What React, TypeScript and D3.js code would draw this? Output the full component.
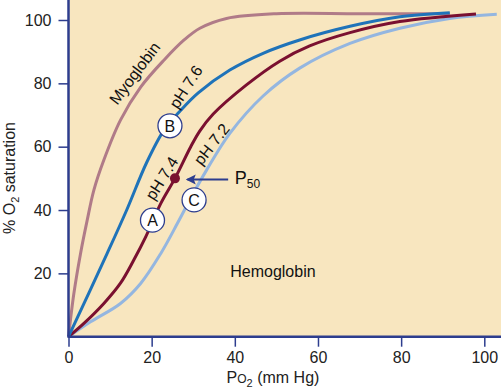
import React, { useEffect, useRef } from "react";
import * as d3 from "d3";

// PO2 (mm Hg) and % saturation
const myoX = [0, 1.3, 2.9, 4.5, 6.1, 8.5, 12.5, 17.4, 23, 27.8, 31.6, 38, 50, 70, 91.7];
const myoY = [0, 13.7, 26.3, 36.8, 46.3, 55.8, 68.4, 78.9, 87.4, 93.7, 97.4, 100.5, 102, 102, 102];

const ph76X = [0, 9.3, 14, 18.8, 23, 27, 31.2, 38.8, 46.8, 55.6, 67.7, 79.7, 91.7];
const ph76Y = [0, 26.3, 40, 55, 65.3, 71.5, 77, 84.2, 89.5, 93.7, 98, 101, 102.3];

const ph74X = [0, 3.7, 8.5, 12.5, 15.7, 18.6, 22.2, 25.6, 29.4, 31.6, 34.8, 42.8, 50.8, 58, 67.7, 79.7, 98];
const ph74Y = [0, 4.2, 10.5, 16.9, 24.2, 31.6, 42.1, 50, 60, 65, 70.3, 79.5, 87, 91.8, 96, 99.5, 101.9];

const ph72X = [0, 5.3, 12.5, 17.4, 22.2, 26.2, 29.5, 33.2, 38.8, 46.8, 55.6, 67.7, 79.7, 91.7, 103];
const ph72Y = [0, 4.7, 10.5, 16.9, 26.3, 35.8, 44, 52.6, 64.2, 76, 84.8, 92.6, 97.4, 100.5, 101.8];

const xTicks = [0, 20, 40, 60, 80, 100];
const yTicks = [20, 40, 60, 80, 100];

const p50 = [25.6, 50];

const W = 501;
const H = 391;

function App() {
  const svgRef = useRef<SVGSVGElement>(null);

  useEffect(() => {
    const svg = d3.select(svgRef.current);
    svg.selectAll("*").remove();

    const x = d3.scaleLinear().domain([0, 100]).range([68.5, 484.3]);
    const y = d3.scaleLinear().domain([0, 100]).range([336.7, 20]);
    const navy = "#2d3d8e";
    const font = "'Liberation Sans', Arial, sans-serif";

    // beige plot background
    svg.append("rect")
      .attr("x", x(0))
      .attr("y", 0)
      .attr("width", W - x(0))
      .attr("height", y(0))
      .attr("fill", "#f8e6bf");

    const line = d3.line<[number, number]>()
      .x((d) => x(d[0]))
      .y((d) => y(d[1]))
      .curve(d3.curveCatmullRom.alpha(0.5));

    const curves: [number[], number[], string][] = [
      [myoX, myoY, "#b07b88"],
      [ph72X, ph72Y, "#94b6e0"],
      [ph74X, ph74Y, "#7a1030"],
      [ph76X, ph76Y, "#1f73b9"],
    ];
    curves.forEach(([xs, ys, c]) => {
      svg.append("path")
        .datum(xs.map((v, i) => [v, ys[i]] as [number, number]))
        .attr("fill", "none")
        .attr("stroke", c)
        .attr("stroke-width", 3)
        .attr("d", line);
    });

    // axes
    const gx = svg.append("g").attr("transform", `translate(0,${y(0)})`)
      .call(d3.axisBottom(x).tickValues(xTicks).tickSize(10).tickPadding(5));
    const gy = svg.append("g").attr("transform", `translate(${x(0)},0)`)
      .call(d3.axisLeft(y).tickValues(yTicks).tickSize(10).tickPadding(7));
    [gx, gy].forEach((g) => {
      g.select(".domain").remove();
      g.selectAll("line").attr("stroke", navy).attr("stroke-width", 1.5);
      g.selectAll("text")
        .attr("fill", "#222")
        .style("font-family", font)
        .style("font-size", "16px");
    });
    svg.append("line")
      .attr("x1", x(0)).attr("x2", x(0)).attr("y1", 0).attr("y2", y(0) + 1)
      .attr("stroke", navy).attr("stroke-width", 2.5);
    svg.append("line")
      .attr("x1", x(0)).attr("x2", W).attr("y1", y(0)).attr("y2", y(0))
      .attr("stroke", navy).attr("stroke-width", 2.5);

    // axis titles
    const xt = svg.append("text")
      .attr("x", 273).attr("y", 383)
      .attr("text-anchor", "middle")
      .style("font-family", font).style("font-size", "16px").attr("fill", "#222");
    xt.append("tspan").text("P");
    xt.append("tspan").style("font-size", "12px").text("O");
    xt.append("tspan").style("font-size", "11px").attr("dy", 4).text("2");
    xt.append("tspan").attr("dy", -4).text(" (mm Hg)");

    const yt = svg.append("text")
      .attr("transform", "translate(15,178) rotate(-90)")
      .attr("text-anchor", "middle")
      .style("font-family", font).style("font-size", "16px").attr("fill", "#222");
    yt.append("tspan").text("% O");
    yt.append("tspan").style("font-size", "11px").attr("dy", 4).text("2");
    yt.append("tspan").attr("dy", -4).text(" saturation");

    // rotated curve labels
    const labels: [string, number, number, number][] = [
      ["Myoglobin", 15.9, 83.2, -53],
      ["pH 7.6", 28.2, 78.9, -57],
      ["pH 7.4", 22.4, 50, -58],
      ["pH 7.2", 34.4, 60.8, -52],
    ];
    labels.forEach(([t, lx, ly, a]) => {
      svg.append("text")
        .attr("transform", `translate(${x(lx)},${y(ly)}) rotate(${a})`)
        .attr("text-anchor", "middle")
        .attr("dy", "0.35em")
        .style("font-family", font).style("font-size", "16px")
        .attr("fill", "#111")
        .text(t);
    });

    svg.append("text")
      .attr("x", x(38.9)).attr("y", y(18.9))
      .style("font-family", font).style("font-size", "16px").attr("fill", "#111")
      .text("Hemoglobin");

    // P50 marker and arrow
    svg.append("circle")
      .attr("cx", x(p50[0])).attr("cy", y(p50[1])).attr("r", 5)
      .attr("fill", "#7a1030");
    svg.append("line")
      .attr("x1", x(38.4)).attr("x2", x(28.6)).attr("y1", y(49.6)).attr("y2", y(49.6))
      .attr("stroke", navy).attr("stroke-width", 2);
    const ax = x(28.2), ay = y(49.6);
    svg.append("path")
      .attr("d", `M${ax},${ay} l10,-5 l-2,5 l2,5 z`)
      .attr("fill", navy);
    const pt = svg.append("text")
      .attr("x", x(40)).attr("y", y(48.2))
      .style("font-family", font).style("font-size", "18px").attr("fill", "#111");
    pt.append("tspan").text("P");
    pt.append("tspan").style("font-size", "12px").attr("dy", 4).text("50");

    // circled letters
    const circ: [string, number, number][] = [
      ["B", 24.4, 66.6],
      ["A", 20.2, 36.8],
      ["C", 30.2, 43.2],
    ];
    circ.forEach(([t, cx, cy]) => {
      svg.append("circle")
        .attr("cx", x(cx)).attr("cy", y(cy)).attr("r", 12)
        .attr("fill", "#fff").attr("stroke", navy).attr("stroke-width", 1.3);
      svg.append("text")
        .attr("x", x(cx)).attr("y", y(cy)).attr("dy", "0.36em")
        .attr("text-anchor", "middle")
        .style("font-family", font).style("font-size", "16px").attr("fill", "#111")
        .text(t);
    });
  }, []);

  return (
    <svg
      ref={svgRef}
      width={W}
      height={H}
      style={{ position: "absolute", left: 0, top: 0, background: "#fff" }}
    />
  );
}

export default App;
